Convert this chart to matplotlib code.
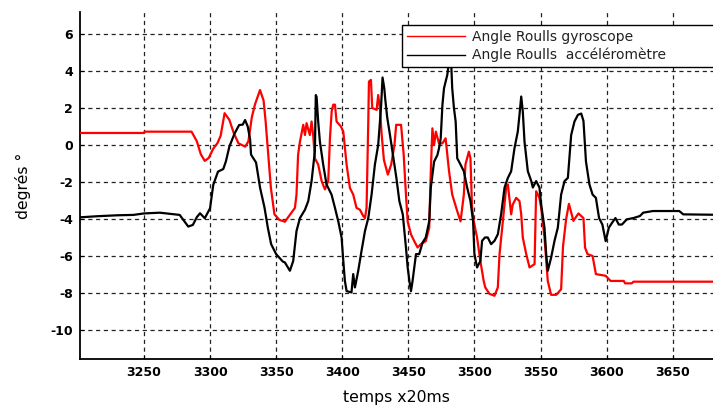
import matplotlib
matplotlib.use("Agg")
import matplotlib.pyplot as plt

plt.rcParams['lines.scale_dashes'] = False

# ---- data ----
gyro_x = [3201.6, 3250, 3250.5, 3286, 3290, 3293, 3296, 3299, 3302.4, 3305.6, 3308, 3311,
          3314.6, 3318, 3321.5, 3326.6, 3329, 3331.6, 3334, 3337.8, 3340.5, 3342, 3344,
          3346, 3348.7, 3352.5, 3356.6, 3360.4, 3364.2, 3365.4, 3366.6, 3368, 3370.5,
          3371.8, 3373, 3375.5, 3376.8, 3378, 3379.3, 3381.8, 3384.4, 3386.9, 3389.4,
          3390.7, 3392, 3393.2, 3394.5, 3395.7, 3399, 3400.8, 3403.3, 3405.8, 3408.3,
          3410.8, 3413.4, 3415.9, 3417.2, 3418.4, 3419.7, 3420.2, 3421.7, 3422.7, 3426,
          3427.2, 3428.5, 3429.8, 3431.5, 3434.5, 3437, 3439.5, 3440.8, 3444.5, 3446.5,
          3448.2, 3449.5, 3452, 3454.5, 3457, 3459.5, 3463.2, 3465.8, 3467, 3468.2,
          3469.5, 3470.8, 3473.2, 3475.8, 3478.2, 3480.8, 3483.2, 3487, 3489.5, 3492,
          3493.2, 3495.8, 3497, 3498.2, 3499.5, 3502, 3504.5, 3507, 3508.2, 3511.4,
          3515.2, 3517.7, 3519, 3521.5, 3524, 3525.3, 3527.8, 3529, 3531.6, 3534.1,
          3535.4, 3536.6, 3539.2, 3541.7, 3545.5, 3546.7, 3549.2, 3550.5, 3553, 3555.5,
          3558, 3561.9, 3565.6, 3567, 3569.4, 3571.5, 3574.9, 3578.7, 3582.5, 3583.7,
          3585.6, 3589.4, 3591.9, 3599.3, 3603, 3613, 3614, 3619, 3620.3, 3690]
gyro_y = [0.65, 0.65, 0.72, 0.72, 0.2, -0.5, -0.86, -0.7, -0.2, 0.1, 0.5, 1.72,
          1.36, 0.63, 0.09, -0.09, 0.2, 1.5, 2.2, 2.97, 2.4, 1.3, -0.5,
          -2.3, -3.75, -4.05, -4.15, -3.77, -3.4, -2.68, -0.52, 0.18, 1.09,
          0.54, 1.18, 0.54, 1.27, 0.54, -0.72, -1.06, -1.95, -2.4, -1.95,
          0.36, 1.82, 2.18, 2.18, 1.27, 1.0, 0.72, -1.06, -2.32, -2.68,
          -3.4, -3.5, -3.84, -3.95, -3.4, 1.27, 3.43, 3.52, 2.0, 1.9,
          2.7, 2.0, 0.6, -0.8, -1.6, -1.06, 0.0, 1.09, 1.09, -0.54,
          -2.68, -4.13, -4.83, -5.2, -5.54, -5.36, -5.2, -4.47, -1.42, 0.9,
          0.0, 0.72, 0.09, 0.09, 0.36, -1.42, -2.68, -3.58, -4.13, -2.68,
          -1.06, -0.36, -0.72, -3.4, -4.13, -5.0, -6.27, -7.35, -7.7, -8.05,
          -8.15, -7.7, -5.9, -4.13, -2.3, -2.13, -3.75, -3.22, -2.86, -3.03,
          -3.75, -5.0, -5.9, -6.62, -6.44, -2.5, -2.86, -3.4, -5.0, -7.35,
          -8.1, -8.1, -7.8, -5.5, -4.0, -3.18, -4.1, -3.7, -3.95, -5.55,
          -5.9, -6.0, -6.98, -7.07, -7.35, -7.35, -7.48, -7.48, -7.39, -7.39]

accel_x = [3201.6, 3215, 3230, 3242, 3250, 3262, 3277, 3283.5, 3287, 3290, 3292.4, 3296,
           3300, 3302.4, 3306, 3310, 3312, 3314.6, 3318.4, 3322, 3324.7, 3326.5, 3328.5,
           3330.3, 3331, 3334.8, 3337.8, 3341.2, 3343.7, 3346.2, 3350, 3355, 3356.6,
           3360.4, 3362.9, 3365.4, 3368, 3371.8, 3374.3, 3376.8, 3379.3, 3380, 3380.6,
           3381.8, 3383.1, 3385.6, 3388.1, 3391.9, 3394.5, 3397, 3399.5, 3400.8, 3402,
           3403.3, 3407, 3408.3, 3409.6, 3412.1, 3414.6, 3417.2, 3419.7, 3422.2, 3424.7,
           3427.2, 3429.3, 3430.5, 3431.8, 3432.5, 3434, 3436.2, 3438.7, 3441, 3443.2,
           3445.8, 3448.2, 3449.5, 3450.8, 3452, 3453.2, 3454.5, 3455.8, 3458.2, 3460.8,
           3463.2, 3465.8, 3467, 3469.5, 3472, 3473.2, 3474.5, 3475.8, 3477, 3479.5,
           3480.8, 3482.5, 3483.2, 3484.5, 3485.8, 3487, 3489.5, 3492, 3494.5, 3497,
           3499, 3500, 3502, 3504.5, 3505.8, 3508, 3510.1, 3512.6, 3515.2, 3517.7,
           3520.2, 3522.8, 3525.3, 3527.8, 3530.3, 3532.8, 3534.1, 3535.4, 3536.6,
           3537.9, 3540.4, 3543, 3544.2, 3546.7, 3549.2, 3550.5, 3553, 3554.3, 3555.5,
           3558, 3560.6, 3563.1, 3565.6, 3568.2, 3570.7, 3572, 3573.2, 3575.7, 3578.3,
           3580.8, 3582.5, 3584.4, 3587, 3589.4, 3591.9, 3594.3, 3596.8, 3599.3,
           3601.7, 3604.2, 3606.7, 3609.2, 3611.6, 3615.3, 3620.3, 3625.2, 3627.7,
           3635, 3655, 3658, 3690]
accel_y = [-3.91, -3.85, -3.8, -3.78, -3.7, -3.66, -3.78, -4.41, -4.32, -3.9, -3.69, -3.96,
           -3.42, -2.16, -1.44, -1.3, -0.88, -0.09, 0.6, 1.08, 1.1, 1.35, 1.0,
           0.3, -0.52, -0.95, -2.3, -3.39, -4.47, -5.36, -5.9, -6.3, -6.35,
           -6.8, -6.27, -4.65, -3.95, -3.5, -3.03, -1.95, -0.34, 2.7, 2.6,
           1.27, 0.18, -1.06, -2.13, -2.68, -3.4, -4.13, -5.0, -6.27, -7.35,
           -7.9, -7.97, -6.98, -7.7, -6.8, -5.72, -4.65, -3.95, -2.68, -1.06,
           0.0, 2.0, 3.65, 3.07, 2.5, 1.5, 0.5, -0.7, -1.8, -3.03,
           -3.75, -5.54, -6.62, -7.35, -7.9, -7.35, -6.62, -5.9, -5.9, -5.27,
           -5.0, -4.13, -2.3, -0.9, -0.54, -0.18, 0.36, 2.18, 3.07, 3.8,
           4.5, 4.3, 3.07, 2.0, 1.27, -0.72, -1.06, -1.42, -2.3, -3.03,
           -4.13, -5.9, -6.62, -6.27, -5.18, -5.0, -5.0, -5.36, -5.18, -4.83,
           -3.75, -2.3, -1.78, -1.42, -0.18, 0.72, 1.63, 2.62, 1.82,
           0.18, -1.42, -1.95, -2.3, -1.95, -2.3, -3.22, -4.47, -5.9, -6.8,
           -6.1, -5.18, -4.47, -2.68, -1.95, -1.78, -0.54, 0.54, 1.27, 1.63,
           1.7, 1.3, -0.9, -2.13, -2.68, -2.86, -3.95, -4.3, -5.2,
           -4.47, -4.2, -3.95, -4.3, -4.3, -4.02, -3.95, -3.84, -3.66,
           -3.57, -3.57, -3.75, -3.78]

xticks = [3250, 3300, 3350, 3400, 3450, 3500, 3550, 3600, 3650]
yticks = [-10, -8, -6, -4, -2, 0, 2, 4, 6]
label_gyro = "Angle Roulls gyroscope"
label_accel = "Angle Roulls  accéléromètre"

# ---- figure ----
W, H = 713, 408
fig = plt.figure(figsize=(W / 100, H / 100), dpi=100)
ax = fig.add_axes([80 / W, (H - 359) / H, 1 - 80 / W, (359 - 12) / H])

ax.plot(gyro_x, gyro_y, color='#ff0000', lw=1.6, label=label_gyro, zorder=3)
ax.plot(accel_x, accel_y, color='#000000', lw=1.6, label=label_accel, zorder=4)

ax.set_xlim(3201.6, 3680.5)
ax.set_ylim(-11.57, 7.19)
ax.set_xticks(xticks)
ax.set_yticks(yticks)
ax.set_xticklabels([str(v) for v in xticks], fontsize=9, fontweight='bold')
ax.set_yticklabels([str(v) for v in yticks], fontsize=9, fontweight='bold')
ax.tick_params(direction='in', length=3, width=0.8, pad=5)

ax.grid(True, color='#222222', linestyle=(0, (3.0, 2.6)), linewidth=0.9)
ax.set_axisbelow(True)

for s in ['top', 'right']:
    ax.spines[s].set_visible(False)
for s in ['left', 'bottom']:
    ax.spines[s].set_linewidth(1.3)

ax.set_xlabel("temps x20ms", fontsize=11.3, labelpad=8)
ax.set_ylabel("degrés °", fontsize=11.3, labelpad=14)

leg = ax.legend(loc='upper left', bbox_to_anchor=(395 / W, 1 - 18 / H, 0.6, 0.0),
                bbox_transform=fig.transFigure, mode='expand',
                fontsize=10, handlelength=4.2, handletextpad=0.5,
                borderpad=0.35, labelspacing=0.3, fancybox=False,
                framealpha=1, edgecolor='black')
leg.get_frame().set_linewidth(1.0)
for line in leg.get_lines():
    line.set_linewidth(1.0)
for t in leg.get_texts():
    t.set_color('#222222')

fig.savefig("out.png", dpi=100)
